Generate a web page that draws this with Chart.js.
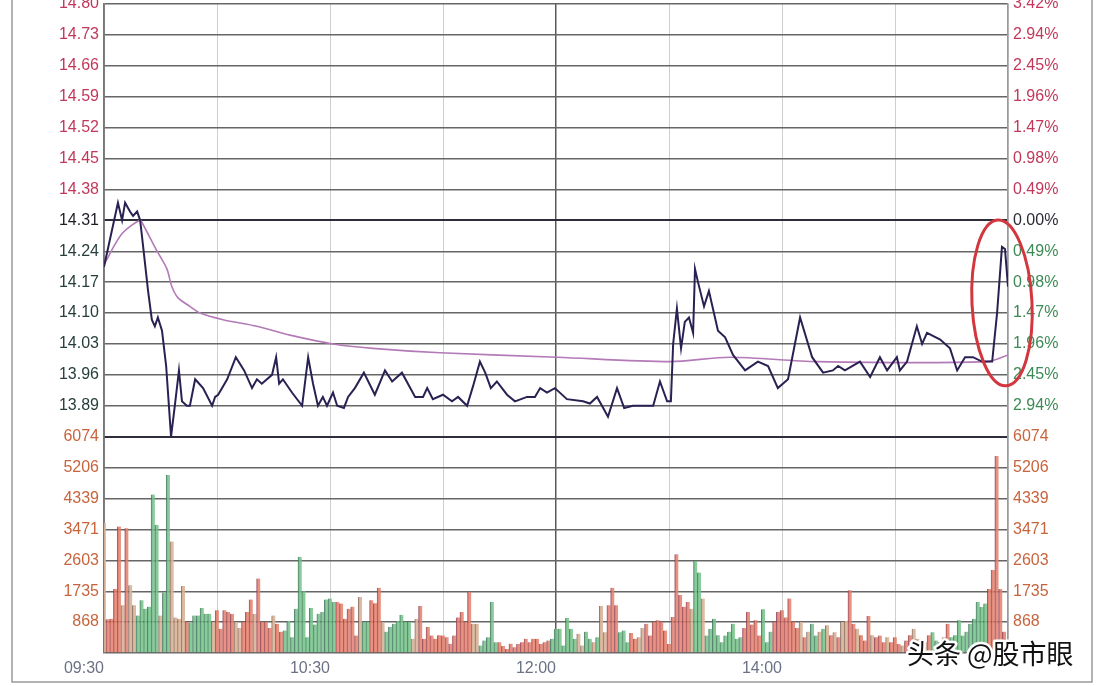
<!DOCTYPE html>
<html><head><meta charset="utf-8">
<script src="https://cdn.jsdelivr.net/npm/chart.js@4/dist/chart.umd.min.js"></script>
<style>
html,body{margin:0;padding:0;background:#fff;}
#wrap{position:relative;width:1104px;height:686px;overflow:hidden;}
canvas{display:block;}
</style></head>
<body><div id="wrap"><canvas id="c" width="1104" height="686"></canvas></div>
<script>
// ---- data ----
const prevClose = 14.31;
const priceMin = 13.82, priceMax = 14.80;
const volMax = 6074;
const priceTicks = [14.80,14.73,14.66,14.59,14.52,14.45,14.38,14.31,14.24,14.17,14.10,14.03,13.96,13.89];
const pctLabels = ['3.42%','2.94%','2.45%','1.96%','1.47%','0.98%','0.49%','0.00%','0.49%','0.98%','1.47%','1.96%','2.45%','2.94%'];
const volTicks = [6074,5206,4339,3471,2603,1735,868];
const timeLabels = ['09:30','10:30','12:00','14:00'];
const timeLabelMinutes = [0,60,120,180];

const priceTimes = [0,3.7,4.8,5.6,6.9,7.7,8.8,9.6,10.4,11.7,12.7,13.5,14.3,15.4,16.5,17.8,18.8,19.9,20.7,22.0,22.8,24.2,26.3,28.7,29.5,30.3,32.7,35.0,37.2,39.3,40.6,41.9,44.6,45.7,46.5,47.5,49.9,52.6,54.2,55.5,56.8,58.1,59.2,60.8,61.9,63.7,64.8,66.6,69.0,71.9,74.6,76.5,79.1,82.6,84.7,85.8,87.3,90.0,92.4,94.0,96.4,98.0,99.8,101.2,102.7,104.3,107.0,109.1,112.3,114.4,115.8,117.6,119.7,122.9,127.2,129.0,130.9,132.2,133.8,136.2,138.1,140.4,145.8,147.6,149.5,150.5,151.1,152.1,153.2,154.2,155.3,156.4,156.9,157.7,159.3,160.6,163.0,164.9,167.0,170.2,173.6,176.3,178.9,181.6,184.8,188.0,190.9,193.5,194.9,196.7,200.7,203.4,206.0,207.9,210.5,211.3,213.2,215.8,217.2,218.5,222.0,224.6,226.5,228.6,230.7,233.1,235.8,237.1,238.4,239.2,240];
const prices = [14.205,14.35,14.31,14.35,14.33,14.32,14.33,14.31,14.25,14.15,14.085,14.07,14.09,14.06,13.98,13.82,13.89,13.97,13.90,13.89,13.89,13.95,13.93,13.89,13.91,13.915,13.95,14.00,13.97,13.93,13.95,13.94,13.96,14.00,13.94,13.95,13.92,13.89,14.00,13.94,13.89,13.91,13.89,13.92,13.89,13.885,13.91,13.93,13.965,13.915,13.97,13.945,13.965,13.91,13.91,13.93,13.905,13.915,13.90,13.91,13.89,13.935,13.99,13.965,13.93,13.945,13.915,13.90,13.91,13.91,13.93,13.92,13.93,13.905,13.90,13.895,13.91,13.89,13.865,13.93,13.885,13.89,13.89,13.945,13.90,13.90,14.03,14.11,14.02,14.08,14.09,14.055,14.20,14.17,14.115,14.15,14.06,14.045,14.005,13.97,13.99,13.98,13.93,13.95,14.09,14.00,13.965,13.97,13.98,13.97,13.99,13.955,14.00,13.97,14.00,13.97,13.99,14.07,14.03,14.055,14.04,14.02,13.97,14.00,14.00,13.99,13.99,14.10,14.25,14.245,14.16];

const avgTimes = [0,4.8,9.6,10.4,14.1,16.7,18.0,19.6,22.8,25.5,31.6,40.6,49.4,60.8,71.4,89.2,120.3,150.3,166.2,189.3,234.4,240];
const avgPrices = [14.21,14.28,14.31,14.30,14.24,14.20,14.16,14.135,14.115,14.10,14.085,14.07,14.05,14.03,14.02,14.01,14.00,13.99,14.00,13.99,13.99,14.005];

const volumes = [3650,950,960,1800,3550,1340,3500,1900,1340,1050,
1480,1240,1300,4450,3600,1050,1700,5000,3130,1000,
960,1880,870,850,1050,1050,1260,1100,1100,870,
1200,680,1200,1150,1100,870,700,870,1150,1500,
1100,2090,870,870,700,1050,820,600,630,900,
440,1240,2700,1735,440,1260,800,1100,1150,1500,
1530,1430,1430,1390,960,1240,1300,490,1575,870,
870,1480,1400,1830,870,600,730,820,900,1075,
870,870,400,960,1320,400,730,490,400,500,
490,440,260,490,1000,1150,870,1720,820,820,
210,350,440,1430,300,300,200,110,260,160,
250,300,400,300,400,400,250,300,350,400,
680,680,210,980,680,400,540,210,600,400,
300,440,1320,580,1340,1830,1340,580,630,300,
560,400,440,700,820,490,870,920,870,630,
250,1010,2770,1630,1300,1430,1240,2580,2260,1530,
490,680,960,500,300,490,600,820,400,440,
700,1150,800,920,490,1225,300,600,870,1150,
1200,1000,1530,870,700,870,440,600,820,490,
600,680,780,500,580,440,870,900,1760,820,
680,500,350,1040,500,440,490,300,440,300,
440,250,210,350,500,680,400,400,300,500,
580,350,300,440,820,440,500,920,490,600,
820,960,1430,1290,1390,1800,2330,5530,1800,600,
300];
const volDir = "trrrrtrttg"+"gggggtggtt"+"ttrggggggt"+"rrrrrttrrr"+"trrrrtrrgg"+"gggggggggg"+"ggrrrrrrtg"+"grrrtggggg"+"ggttrrrrrr"+"rrrrrrrrtt"+"gggggrrrrr"+"rrrrrrrrrg"+"ggggggttgg"+"tgttrrrggg"+"rrttrrrrrr"+"rrrrrrtggt"+"gggggggggg"+"rrrrrgggrr"+"rrrrrtrtgg"+"tgtrtrttrr"+"trrrtrrrtr"+"rrtrrttttr"+"ggttrggggg"+"gggggrrrrr"+"r";

// ---- styles ----
const FILL = {r:'rgba(228,128,108,0.85)', g:'rgba(118,194,138,0.85)', t:'rgba(216,180,152,0.9)'};
const EDGE = {r:'rgba(140,50,70,0.8)', g:'rgba(50,105,80,0.8)', t:'rgba(120,90,80,0.8)'};
const FONT = {family:'"Liberation Sans", Arial, sans-serif', size:16};

const tv = c => (c && c.tick) ? c.tick.value : NaN;
const near = (a,b) => Math.abs(a-b) < 1e-6;

const overlay = {
  id:'overlay',
  beforeDraw(chart){
    const ctx = chart.ctx;
    ctx.save();
    ctx.fillStyle = '#fff';
    ctx.fillRect(0,0,chart.width,chart.height);
    ctx.restore();
  },
  afterDraw(chart){
    const ctx = chart.ctx;
    const x = chart.scales.x, yP = chart.scales.yP;
    ctx.save();
    ctx.strokeStyle = '#9a9a9a'; ctx.lineWidth = 1.5;
    ctx.beginPath(); ctx.moveTo(12,0); ctx.lineTo(12,682); ctx.lineTo(1092,682); ctx.lineTo(1092,0); ctx.stroke();
    const cx = x.getPixelForValue(238.4), cy = yP.getPixelForValue(14.123);
    ctx.strokeStyle = '#d3363c'; ctx.lineWidth = 3;
    ctx.beginPath(); ctx.ellipse(cx, cy, 30, 83, -0.05, 0, Math.PI*2); ctx.stroke();
    ctx.font = '27px "Noto Sans CJK SC", sans-serif';
    ctx.textBaseline = 'middle'; ctx.textAlign = 'left';
    ctx.lineWidth = 5; ctx.strokeStyle = '#fff'; ctx.lineJoin = 'round';
    ctx.strokeText('头条 @股市眼', 907, 654);
    ctx.fillStyle = '#111';
    ctx.fillText('头条 @股市眼', 907, 654);
    ctx.restore();
  }
};

new Chart(document.getElementById('c'), {
  data: {
    datasets: [
      { type:'line', label:'price', yAxisID:'yP', xAxisID:'x',
        data: priceTimes.map((t,i)=>({x:t, y:prices[i]})),
        borderColor:'#2a2152', borderWidth:2, pointRadius:0, tension:0, order:1 },
      { type:'line', label:'avg', yAxisID:'yP', xAxisID:'x',
        data: avgTimes.map((t,i)=>({x:t, y:avgPrices[i]})),
        borderColor:'#b47ab8', borderWidth:1.6, pointRadius:0, tension:0.3, order:2 },
      { type:'bar', label:'vol', yAxisID:'yV', xAxisID:'x',
        data: volumes.map((v,i)=>({x:i, y:v})),
        backgroundColor: volumes.map((v,i)=>FILL[volDir[i]]),
        borderColor: volumes.map((v,i)=>EDGE[volDir[i]]),
        borderWidth:{left:1, top:0, right:0, bottom:0}, borderSkipped:false,
        barPercentage:1, categoryPercentage:1, order:3 }
    ]
  },
  options: {
    responsive:false, animation:false, devicePixelRatio:1,
    layout:{padding:{top:4,left:0,right:0,bottom:0}},
    plugins:{legend:{display:false}, tooltip:{enabled:false}},
    scales:{
      x:{ type:'linear', position:'bottom', min:0, max:240, offset:false,
        afterBuildTicks(s){ s.ticks = [0,30,60,90,120,150,180,210,240].map(v=>({value:v})); },
        afterFit(s){ s.height = 33; s.paddingLeft = 0; s.paddingRight = 0; },
        grid:{ offset:false, color: c => tv(c)===120 ? '#5a5a5a' : (tv(c)===0 ? '#888' : '#cfcfcf'), lineWidth: c => tv(c)===120 ? 1.5 : 1, drawTicks:false },
        border:{display:false},
        ticks:{ autoSkip:false, maxRotation:0, align:'end', padding:6, color:'#6c7286',
          font:{family:FONT.family, size:16},
          callback:(v)=>{ const k = timeLabelMinutes.indexOf(v); return k>=0 ? timeLabels[k] : ''; } }
      },
      yV:{ type:'linear', position:'left', stack:'L', stackWeight:1, min:0, max:volMax,
        afterBuildTicks(s){ s.ticks = [0].concat(volTicks).map(v=>({value:v})); },
        afterFit(s){ s.width = 104; s.paddingTop = 0; s.paddingBottom = 0; },
        grid:{ drawTicks:false, color: c => tv(c)===volMax ? '#2e2e3a' : '#666', lineWidth: c => tv(c)===volMax ? 2 : 1.4 },
        border:{color:'#777', width:1.5},
        ticks:{ autoSkip:false, padding:5, font:FONT, color:'#c8643c',
          callback:(v)=> v===0 ? '' : String(v) }
      },
      yP:{ type:'linear', position:'left', stack:'L', stackWeight:2, min:priceMin, max:priceMax,
        afterBuildTicks(s){ s.ticks = priceTicks.concat([priceMin]).map(v=>({value:v})); },
        afterFit(s){ s.width = 104; s.paddingTop = 0; s.paddingBottom = 0; },
        grid:{ drawTicks:false,
          color: c => (near(tv(c),prevClose)||near(tv(c),priceMin)) ? '#2e2e3a' : '#666',
          lineWidth: c => (near(tv(c),prevClose)||near(tv(c),priceMin)) ? 2 : 1.4 },
        border:{color:'#777', width:1.5},
        ticks:{ autoSkip:false, padding:5, font:FONT,
          color: c => near(tv(c),prevClose) ? '#1e1e28' : (tv(c)>prevClose ? '#c2385a' : '#273f3c'),
          callback:(v)=> near(v,priceMin) ? '' : Number(v).toFixed(2) }
      },
      yR:{ type:'linear', position:'right', stack:'R', stackWeight:2, min:priceMin, max:priceMax,
        afterBuildTicks(s){ s.ticks = priceTicks.concat([priceMin]).map(v=>({value:v})); },
        afterFit(s){ s.width = 96; s.paddingTop = 0; s.paddingBottom = 0; },
        grid:{display:false, drawTicks:false},
        border:{color:'#999', width:1.5},
        ticks:{ autoSkip:false, padding:5, font:FONT,
          color: c => near(tv(c),prevClose) ? '#2a2a34' : (tv(c)>prevClose ? '#c2385a' : '#3c8a55'),
          callback:(v)=>{ const k = priceTicks.findIndex(p=>near(p,v)); return k>=0 ? pctLabels[k] : ''; } }
      },
      yVR:{ type:'linear', position:'right', stack:'R', stackWeight:1, min:0, max:volMax,
        afterBuildTicks(s){ s.ticks = [0].concat(volTicks).map(v=>({value:v})); },
        afterFit(s){ s.width = 96; s.paddingTop = 0; s.paddingBottom = 0; },
        grid:{display:false, drawTicks:false},
        border:{color:'#999', width:1.5},
        ticks:{ autoSkip:false, padding:5, font:FONT, color:'#c8643c',
          callback:(v)=> v===0 ? '' : String(v) }
      }
    }
  },
  plugins:[overlay]
});
</script>
</body></html>
